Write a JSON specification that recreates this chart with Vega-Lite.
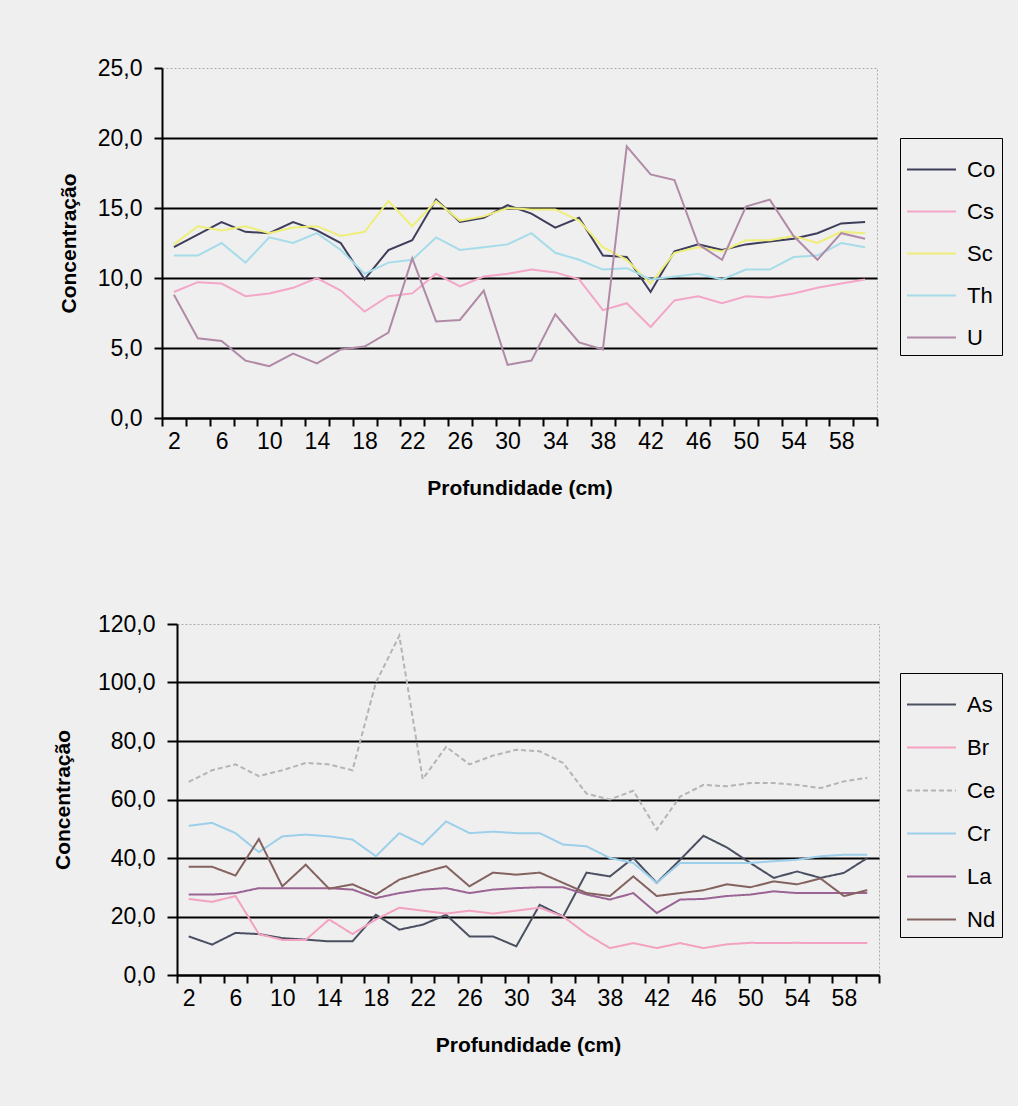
{
  "$schema": "https://vega.github.io/schema/vega-lite/v6.json",
  "background": "#efefef",
  "padding": {"left": 51, "top": 56, "right": 5, "bottom": 52},
  "config": {
    "font": "Liberation Sans, Arial, sans-serif",
    "view": {"stroke": "#aaaaaa", "strokeDash": [2, 2], "strokeWidth": 1},
    "axis": {
      "domainColor": "#000000", "domainWidth": 2,
      "tickColor": "#000000", "tickWidth": 2,
      "gridColor": "#000000", "gridWidth": 2,
      "labelColor": "#000000", "labelFontSize": 23,
      "titleColor": "#000000", "titleFontSize": 21, "titleFontWeight": "bold",
      "labelFont": "Liberation Sans, Arial, sans-serif",
      "titleFont": "Liberation Sans, Arial, sans-serif"
    },
    "legend": {
      "labelFont": "Liberation Sans, Arial, sans-serif",
      "labelFontSize": 22, "labelColor": "#000000"
    }
  },
  "center": true,
  "spacing": 113,
  "resolve": {
    "scale": {"color": "independent", "strokeDash": "independent", "x": "independent", "y": "independent"},
    "legend": {"color": "independent", "strokeDash": "independent"}
  },
  "vconcat": [
    {
      "width": 715,
      "height": 350,
      "title": {"text": "\u00a0", "orient": "right", "offset": 14, "fontSize": 1},
      "data": {"values": [
        {"d": 2, "Co": 12.2, "Cs": 9.0, "Sc": 12.4, "Th": 11.6, "U": 8.8},
        {"d": 4, "Co": 13.1, "Cs": 9.7, "Sc": 13.7, "Th": 11.6, "U": 5.7},
        {"d": 6, "Co": 14.0, "Cs": 9.6, "Sc": 13.4, "Th": 12.5, "U": 5.5},
        {"d": 8, "Co": 13.3, "Cs": 8.7, "Sc": 13.7, "Th": 11.1, "U": 4.1},
        {"d": 10, "Co": 13.2, "Cs": 8.9, "Sc": 13.2, "Th": 12.9, "U": 3.7},
        {"d": 12, "Co": 14.0, "Cs": 9.3, "Sc": 13.6, "Th": 12.5, "U": 4.6},
        {"d": 14, "Co": 13.4, "Cs": 10.0, "Sc": 13.7, "Th": 13.2, "U": 3.9},
        {"d": 16, "Co": 12.5, "Cs": 9.1, "Sc": 13.0, "Th": 12.0, "U": 4.9},
        {"d": 18, "Co": 9.9, "Cs": 7.6, "Sc": 13.3, "Th": 10.3, "U": 5.1},
        {"d": 20, "Co": 12.0, "Cs": 8.7, "Sc": 15.5, "Th": 11.1, "U": 6.1},
        {"d": 22, "Co": 12.7, "Cs": 8.9, "Sc": 13.7, "Th": 11.3, "U": 11.4},
        {"d": 24, "Co": 15.6, "Cs": 10.3, "Sc": 15.5, "Th": 12.9, "U": 6.9},
        {"d": 26, "Co": 14.0, "Cs": 9.4, "Sc": 14.1, "Th": 12.0, "U": 7.0},
        {"d": 28, "Co": 14.3, "Cs": 10.1, "Sc": 14.4, "Th": 12.2, "U": 9.1},
        {"d": 30, "Co": 15.2, "Cs": 10.3, "Sc": 15.0, "Th": 12.4, "U": 3.8},
        {"d": 32, "Co": 14.6, "Cs": 10.6, "Sc": 14.9, "Th": 13.2, "U": 4.1},
        {"d": 34, "Co": 13.6, "Cs": 10.4, "Sc": 14.9, "Th": 11.8, "U": 7.4},
        {"d": 36, "Co": 14.3, "Cs": 9.9, "Sc": 14.1, "Th": 11.3, "U": 5.4},
        {"d": 38, "Co": 11.6, "Cs": 7.7, "Sc": 12.2, "Th": 10.6, "U": 4.9},
        {"d": 40, "Co": 11.5, "Cs": 8.2, "Sc": 11.3, "Th": 10.7, "U": 19.4},
        {"d": 42, "Co": 9.0, "Cs": 6.5, "Sc": 9.6, "Th": 9.9, "U": 17.4},
        {"d": 44, "Co": 11.9, "Cs": 8.4, "Sc": 11.8, "Th": 10.1, "U": 17.0},
        {"d": 46, "Co": 12.4, "Cs": 8.7, "Sc": 12.2, "Th": 10.3, "U": 12.4},
        {"d": 48, "Co": 12.0, "Cs": 8.2, "Sc": 11.9, "Th": 9.9, "U": 11.3},
        {"d": 50, "Co": 12.4, "Cs": 8.7, "Sc": 12.7, "Th": 10.6, "U": 15.1},
        {"d": 52, "Co": 12.6, "Cs": 8.6, "Sc": 12.7, "Th": 10.6, "U": 15.6},
        {"d": 54, "Co": 12.8, "Cs": 8.9, "Sc": 13.0, "Th": 11.5, "U": 13.0},
        {"d": 56, "Co": 13.2, "Cs": 9.3, "Sc": 12.5, "Th": 11.6, "U": 11.3},
        {"d": 58, "Co": 13.9, "Cs": 9.6, "Sc": 13.3, "Th": 12.5, "U": 13.2},
        {"d": 60, "Co": 14.0, "Cs": 9.9, "Sc": 13.2, "Th": 12.2, "U": 12.8}
      ]},
      "transform": [{"fold": ["Co", "Cs", "Sc", "Th", "U"], "as": ["el", "v"]}],
      "mark": {"type": "line", "strokeWidth": 2},
      "encoding": {
        "x": {
          "field": "d", "type": "ordinal",
          "scale": {"paddingInner": 0, "paddingOuter": 0},
          "axis": {
            "title": "Profundidade (cm)", "titlePadding": 24,
            "labelAngle": 0, "tickBand": "extent", "tickSize": 8, "labelPadding": 4,
            "labelOverlap": false,
            "labelExpr": "(datum.value - 2) % 4 == 0 ? datum.label : ''"
          }
        },
        "y": {
          "field": "v", "type": "quantitative",
          "scale": {"domain": [0, 25], "nice": false},
          "axis": {
            "title": "Concentração", "titlePadding": 18,
            "values": [0, 5, 10, 15, 20, 25], "tickSize": 8, "labelPadding": 12,
            "labelExpr": "replace(format(datum.value, '.1f'), '.', ',')",
            "gridOpacity": {"condition": {"test": "datum.value == 25", "value": 0}, "value": 1}
          }
        },
        "color": {
          "field": "el", "type": "nominal",
          "scale": {"domain": ["Co", "Cs", "Sc", "Th", "U"],
                    "range": ["#3e3e5c", "#f4a6c8", "#eeee78", "#a6dcea", "#b08aa6"]},
          "legend": {
            "title": null, "orient": "none", "legendX": 738, "legendY": 70,
            "strokeColor": "#000000", "padding": 6, "symbolType": "stroke",
            "symbolSize": 2400, "symbolStrokeWidth": 2, "rowPadding": 5,
            "labelOffset": 10, "columnPadding": 0
          }
        }
      }
    },
    {
      "width": 702,
      "height": 351,
      "data": {"values": [
        {"d": 2, "As": 13.2, "Br": 26, "Ce": 66, "Cr": 51, "La": 27.5, "Nd": 37},
        {"d": 4, "As": 10.4, "Br": 25, "Ce": 70, "Cr": 52, "La": 27.5, "Nd": 37},
        {"d": 6, "As": 14.4, "Br": 27, "Ce": 72, "Cr": 48.5, "La": 28, "Nd": 34},
        {"d": 8, "As": 14, "Br": 14, "Ce": 68, "Cr": 42, "La": 29.7, "Nd": 46.5},
        {"d": 10, "As": 12.6, "Br": 12, "Ce": 70, "Cr": 47.4, "La": 29.7, "Nd": 30.3},
        {"d": 12, "As": 12.1, "Br": 12, "Ce": 72.5, "Cr": 48, "La": 29.7, "Nd": 37.7},
        {"d": 14, "As": 11.5, "Br": 19, "Ce": 72, "Cr": 47.4, "La": 29.7, "Nd": 29.5},
        {"d": 16, "As": 11.5, "Br": 14, "Ce": 70, "Cr": 46.3, "La": 29.2, "Nd": 31},
        {"d": 18, "As": 20.6, "Br": 19, "Ce": 100, "Cr": 40.6, "La": 26.3, "Nd": 27.5},
        {"d": 20, "As": 15.5, "Br": 23, "Ce": 116, "Cr": 48.5, "La": 28, "Nd": 32.6},
        {"d": 22, "As": 17.2, "Br": 22, "Ce": 67, "Cr": 44.6, "La": 29.2, "Nd": 35},
        {"d": 24, "As": 20.6, "Br": 21, "Ce": 78, "Cr": 52.5, "La": 29.7, "Nd": 37.2},
        {"d": 26, "As": 13.2, "Br": 22, "Ce": 72, "Cr": 48.5, "La": 28, "Nd": 30.3},
        {"d": 28, "As": 13.2, "Br": 21, "Ce": 75, "Cr": 49, "La": 29.2, "Nd": 35},
        {"d": 30, "As": 9.8, "Br": 22, "Ce": 77, "Cr": 48.5, "La": 29.7, "Nd": 34.3},
        {"d": 32, "As": 24, "Br": 23, "Ce": 76.5, "Cr": 48.5, "La": 30, "Nd": 35},
        {"d": 34, "As": 20, "Br": 20, "Ce": 72.5, "Cr": 44.6, "La": 30, "Nd": 31.5},
        {"d": 36, "As": 35, "Br": 14, "Ce": 62, "Cr": 44, "La": 27.5, "Nd": 28},
        {"d": 38, "As": 33.7, "Br": 9.2, "Ce": 60, "Cr": 40, "La": 25.8, "Nd": 27},
        {"d": 40, "As": 40, "Br": 10.9, "Ce": 63, "Cr": 38.3, "La": 28, "Nd": 33.7},
        {"d": 42, "As": 31.5, "Br": 9.2, "Ce": 49.7, "Cr": 31.5, "La": 21.2, "Nd": 27},
        {"d": 44, "As": 39.4, "Br": 10.9, "Ce": 61, "Cr": 38.3, "La": 25.8, "Nd": 28},
        {"d": 46, "As": 47.6, "Br": 9.2, "Ce": 65, "Cr": 38.3, "La": 26, "Nd": 29},
        {"d": 48, "As": 43.6, "Br": 10.5, "Ce": 64.5, "Cr": 38.3, "La": 27, "Nd": 31},
        {"d": 50, "As": 38.3, "Br": 11, "Ce": 65.6, "Cr": 38.3, "La": 27.5, "Nd": 30},
        {"d": 52, "As": 33.2, "Br": 10.9, "Ce": 65.6, "Cr": 38.9, "La": 28.6, "Nd": 32},
        {"d": 54, "As": 35.4, "Br": 11, "Ce": 65, "Cr": 39.4, "La": 28, "Nd": 31},
        {"d": 56, "As": 33.2, "Br": 10.9, "Ce": 63.9, "Cr": 40.6, "La": 28, "Nd": 33},
        {"d": 58, "As": 34.9, "Br": 10.9, "Ce": 66.2, "Cr": 41.1, "La": 28, "Nd": 27},
        {"d": 60, "As": 40, "Br": 10.9, "Ce": 67.4, "Cr": 41.1, "La": 28, "Nd": 29}
      ]},
      "transform": [{"fold": ["As", "Br", "Ce", "Cr", "La", "Nd"], "as": ["el", "v"]}],
      "mark": {"type": "line", "strokeWidth": 2},
      "encoding": {
        "x": {
          "field": "d", "type": "ordinal",
          "scale": {"paddingInner": 0, "paddingOuter": 0},
          "axis": {
            "title": "Profundidade (cm)", "titlePadding": 24,
            "labelAngle": 0, "tickBand": "extent", "tickSize": 8, "labelPadding": 4,
            "labelOverlap": false,
            "labelExpr": "(datum.value - 2) % 4 == 0 ? datum.label : ''"
          }
        },
        "y": {
          "field": "v", "type": "quantitative",
          "scale": {"domain": [0, 120], "nice": false},
          "axis": {
            "title": "Concentração", "titlePadding": 24,
            "values": [0, 20, 40, 60, 80, 100, 120], "tickSize": 10, "labelPadding": 12,
            "labelExpr": "replace(format(datum.value, '.1f'), '.', ',')",
            "gridOpacity": {"condition": {"test": "datum.value == 120", "value": 0}, "value": 1}
          }
        },
        "color": {
          "field": "el", "type": "nominal",
          "scale": {"domain": ["As", "Br", "Ce", "Cr", "La", "Nd"],
                    "range": ["#4a5062", "#f2a2c0", "#b4b4b4", "#9ccfea", "#9a6494", "#84625f"]},
          "legend": {
            "title": null, "orient": "none", "legendX": 723, "legendY": 49,
            "strokeColor": "#000000", "padding": 6, "symbolType": "stroke",
            "symbolSize": 2400, "symbolStrokeWidth": 2, "rowPadding": 6,
            "labelOffset": 10, "columnPadding": 0
          }
        },
        "strokeDash": {
          "field": "el", "type": "nominal",
          "scale": {"domain": ["As", "Br", "Ce", "Cr", "La", "Nd"],
                    "range": [[1, 0], [1, 0], [5, 3], [1, 0], [1, 0], [1, 0]]},
          "legend": {
            "title": null, "orient": "none", "legendX": 723, "legendY": 49,
            "strokeColor": "#000000", "padding": 6, "symbolType": "stroke",
            "symbolSize": 2400, "symbolStrokeWidth": 2, "rowPadding": 6,
            "labelOffset": 10, "columnPadding": 0
          }
        }
      }
    }
  ]
}
